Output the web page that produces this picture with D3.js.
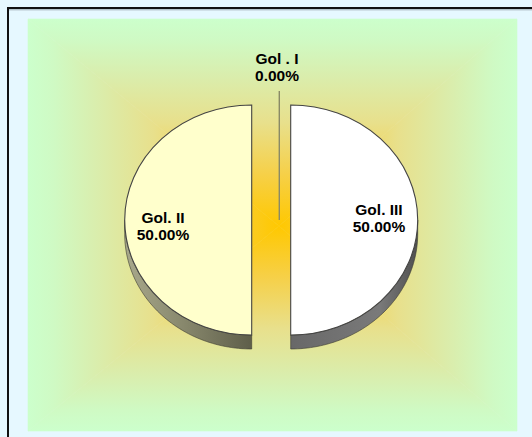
<!DOCTYPE html>
<html>
<head>
<meta charset="utf-8">
<script src="https://cdn.jsdelivr.net/npm/d3@7"></script>
<style>
  html, body { margin: 0; padding: 0; background: #e6f8ff; overflow: hidden; }
  svg { display: block; }
  text { font-family: "Liberation Sans", Arial, sans-serif; font-weight: bold; fill: #000; }
</style>
</head>
<body>
<svg id="chart" width="532" height="437"></svg>
<script>
// ---- data ----
const categories = ["Gol . I", "Gol. II", "Gol. III"];
const values = [0, 50, 50];
const sliceColors = ["#ffffcc", "#ffffcc", "#ffffff"];
// label anchor positions (screen px) for each category label
const labelX = [277, 163, 379];
const labelY = [59, 218, 210];

const W = 532, H = 437;
const svg = d3.select("#chart");
const defs = svg.append("defs");

// outer frame
svg.append("rect").attr("x", 0).attr("y", 0).attr("width", W).attr("height", H).attr("fill", "#e6f8ff");
svg.append("rect").attr("x", 8).attr("y", 8).attr("width", 700).attr("height", 700)
  .attr("fill", "#e6f8ff").attr("stroke", "#111").attr("stroke-width", 2);
svg.append("line").attr("x1", 9).attr("x2", W).attr("y1", 9.8).attr("y2", 9.8)
  .attr("stroke", "#8a9aa0").attr("stroke-width", 0.8);

// plot area with rectangular "from center" gradient
const px0 = 28, px1 = 517, py0 = 19, py1 = 431;
const gcx = 279, gcy = 226;
const tris = [
  {id: "gT", pts: [[px0, py0], [px1, py0], [gcx, gcy]], x2: gcx, y2: py0},
  {id: "gB", pts: [[px0, py1], [px1, py1], [gcx, gcy]], x2: gcx, y2: py1},
  {id: "gL", pts: [[px0, py0], [px0, py1], [gcx, gcy]], x2: px0, y2: gcy},
  {id: "gR", pts: [[px1, py0], [px1, py1], [gcx, gcy]], x2: px1, y2: gcy}
];
const stops = [[0, "#ffc800"], [0.25, "#f6d048"], [0.5, "#e8e08c"], [0.72, "#daedac"], [0.9, "#cffac4"], [1, "#ccffcc"]];
tris.forEach(t => {
  const lg = defs.append("linearGradient").attr("id", t.id)
    .attr("gradientUnits", "userSpaceOnUse")
    .attr("x1", gcx).attr("y1", gcy).attr("x2", t.x2).attr("y2", t.y2);
  stops.forEach(s => lg.append("stop").attr("offset", s[0]).attr("stop-color", s[1]));
  svg.append("path").attr("d", d3.line()(t.pts) + "Z")
    .attr("fill", `url(#${t.id})`).attr("stroke", `url(#${t.id})`).attr("stroke-width", 0.6);
});

// ---- pie ----
const cx = 271.2, cy = 220;
const rx = 127, ry = 115;
const k = ry / rx;
const depth = 14;
const explode = 19.5;

const pie = d3.pie().sort(null).value(d => d).startAngle(0).endAngle(-2 * Math.PI);
const arcs = pie(values);
const arc = d3.arc().innerRadius(0).outerRadius(rx);

// side gradients
const sideGradLeft = defs.append("linearGradient").attr("id", "sideL")
  .attr("x1", 0).attr("y1", 0).attr("x2", 1).attr("y2", 0);
sideGradLeft.append("stop").attr("offset", 0).attr("stop-color", "#a9a98c");
sideGradLeft.append("stop").attr("offset", 0.5).attr("stop-color", "#85856a");
sideGradLeft.append("stop").attr("offset", 1).attr("stop-color", "#5e5e4a");
const sideGradRight = defs.append("linearGradient").attr("id", "sideR")
  .attr("x1", 0).attr("y1", 0).attr("x2", 1).attr("y2", 0);
sideGradRight.append("stop").attr("offset", 0).attr("stop-color", "#686868");
sideGradRight.append("stop").attr("offset", 0.7).attr("stop-color", "#7a7a7a");
sideGradRight.append("stop").attr("offset", 1).attr("stop-color", "#505050");

const g = svg.append("g").attr("transform", `translate(${cx},${cy})`);

arcs.forEach((d, i) => {
  if (d.value <= 0) return;
  const mid = (d.startAngle + d.endAngle) / 2;
  const ox = explode * Math.sin(mid);
  const oy = -explode * Math.cos(mid) * k;
  const lo = Math.min(d.startAngle, d.endAngle), hi = Math.max(d.startAngle, d.endAngle);
  const pts = [];
  const n = 120;
  for (let j = 0; j <= n; j++) {
    const a = lo + (hi - lo) * j / n;
    if (Math.cos(a) <= 1e-9) pts.push([ox + rx * Math.sin(a), oy - rx * k * Math.cos(a)]);
  }
  if (pts.length > 1) {
    const lower = pts.map(p => [p[0], p[1] + depth]).reverse();
    const side = pts.concat(lower);
    const leftSide = Math.sin(mid) < 0;
    g.append("path").attr("d", d3.line()(side) + "Z")
      .attr("fill", leftSide ? "url(#sideL)" : "url(#sideR)")
      .attr("stroke", "#3a3a30").attr("stroke-width", 0.6);
  }
  g.append("path")
    .attr("d", arc(d))
    .attr("transform", `translate(${ox},${oy}) scale(1,${k})`)
    .attr("fill", sliceColors[i])
    .attr("stroke", "#444")
    .attr("stroke-width", 1.1)
    .attr("vector-effect", "non-scaling-stroke");
});

// leader line for zero slice
svg.append("line")
  .attr("x1", 279.3).attr("x2", 279.3)
  .attr("y1", 91).attr("y2", cy)
  .attr("stroke", "#8a8a66").attr("stroke-width", 1.4);

// labels
const fmt = d3.format(".2%");
const total = d3.sum(values);
arcs.forEach((d, i) => {
  const t = svg.append("text").attr("text-anchor", "middle").attr("font-size", 15.5);
  t.append("tspan").attr("x", labelX[i]).attr("y", labelY[i] + 5).text(categories[i]);
  t.append("tspan").attr("x", labelX[i]).attr("y", labelY[i] + 22).text(fmt(values[i] / total));
});
</script>
</body>
</html>
